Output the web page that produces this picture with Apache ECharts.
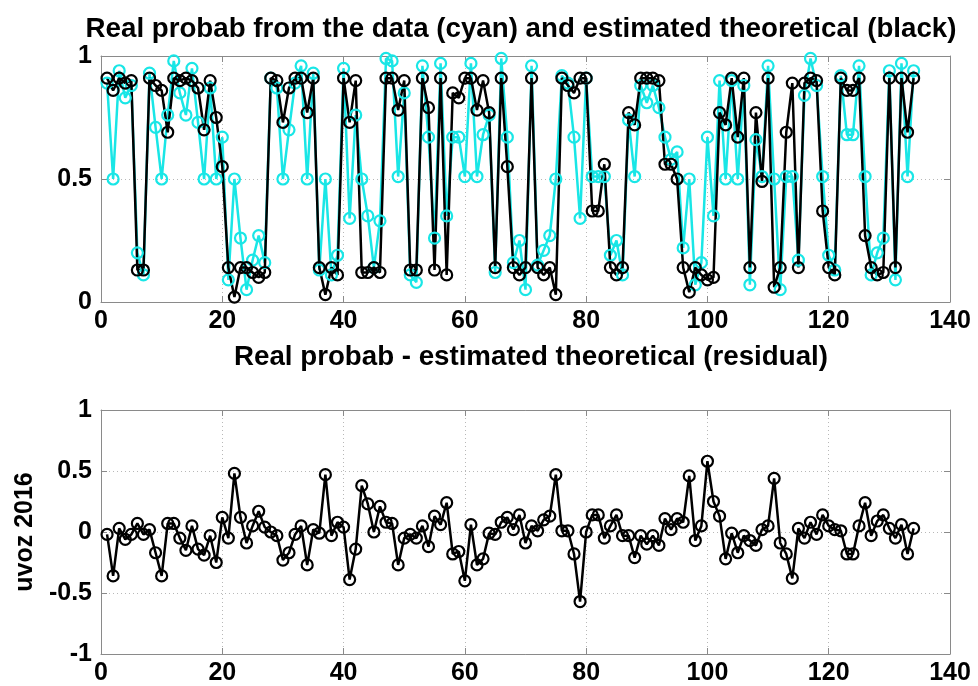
<!DOCTYPE html>
<html>
<head>
<meta charset="utf-8">
<script src="https://cdn.jsdelivr.net/npm/echarts@6/dist/echarts.min.js"></script>
<style>html,body{margin:0;padding:0;background:#fff}#c{width:978px;height:686px}</style>
</head>
<body>
<div id="c"></div>
<script>
// Real probabilities from the data (cyan), samples 1..134
const realProb = [
0.89,0.50,0.94,0.83,0.88,0.20,0.11,0.93,0.71,0.50,
0.76,0.98,0.85,0.76,0.95,0.73,0.50,0.87,0.50,0.67,
0.09,0.50,0.26,0.05,0.17,0.27,0.16,0.91,0.87,0.50,
0.70,0.89,0.96,0.50,0.93,0.13,0.50,0.11,0.19,0.95,
0.34,0.76,0.50,0.35,0.14,0.33,0.99,0.98,0.51,0.85,
0.11,0.08,0.96,0.67,0.26,0.97,0.35,0.67,0.67,0.51,
0.97,0.51,0.68,0.76,0.12,0.99,0.67,0.16,0.25,0.05,
0.96,0.15,0.21,0.27,0.50,0.92,0.89,0.67,0.34,0.91,
0.51,0.51,0.51,0.19,0.25,0.11,0.74,0.51,0.88,0.81,
0.88,0.79,0.67,0.58,0.61,0.22,0.50,0.07,0.16,0.67,
0.35,0.90,0.50,0.90,0.50,0.88,0.07,0.66,0.51,0.96,
0.50,0.05,0.51,0.51,0.17,0.84,0.99,0.88,0.51,0.19,
0.13,0.92,0.68,0.68,0.96,0.51,0.11,0.20,0.26,0.94,
0.09,0.97,0.51,0.94];
// Estimated theoretical probabilities (black)
const theoProb = [
0.91,0.86,0.91,0.89,0.90,0.13,0.13,0.91,0.88,0.86,
0.69,0.91,0.90,0.91,0.90,0.87,0.70,0.90,0.75,0.55,
0.14,0.02,0.14,0.14,0.12,0.10,0.12,0.91,0.90,0.73,
0.87,0.91,0.91,0.77,0.91,0.14,0.03,0.14,0.11,0.91,
0.73,0.90,0.12,0.12,0.14,0.12,0.91,0.91,0.78,0.90,
0.13,0.13,0.91,0.79,0.13,0.91,0.11,0.85,0.83,0.91,
0.91,0.78,0.90,0.77,0.14,0.91,0.55,0.14,0.11,0.14,
0.91,0.14,0.11,0.14,0.03,0.91,0.88,0.85,0.91,0.91,
0.37,0.37,0.56,0.14,0.11,0.14,0.77,0.72,0.91,0.91,
0.91,0.90,0.56,0.56,0.50,0.14,0.04,0.14,0.11,0.09,
0.10,0.77,0.72,0.91,0.67,0.91,0.14,0.77,0.49,0.91,
0.06,0.14,0.69,0.89,0.14,0.89,0.91,0.90,0.37,0.14,
0.11,0.91,0.86,0.86,0.91,0.27,0.14,0.11,0.12,0.91,
0.14,0.91,0.69,0.91];
// Residual (real - theoretical)
const residual = [
-0.02,-0.36,0.03,-0.06,-0.02,0.07,-0.02,0.02,-0.17,-0.36,
0.07,0.07,-0.05,-0.15,0.05,-0.14,-0.19,-0.03,-0.25,0.12,
-0.05,0.48,0.12,-0.09,0.05,0.17,0.04,0.00,-0.03,-0.23,
-0.17,-0.02,0.05,-0.27,0.02,-0.01,0.47,-0.03,0.08,0.04,
-0.39,-0.14,0.38,0.23,0.00,0.21,0.08,0.07,-0.27,-0.05,
-0.02,-0.05,0.05,-0.12,0.13,0.06,0.24,-0.18,-0.16,-0.40,
0.06,-0.27,-0.22,-0.01,-0.02,0.08,0.12,0.02,0.14,-0.09,
0.05,0.01,0.10,0.13,0.47,0.01,0.01,-0.18,-0.57,0.00,
0.14,0.14,-0.05,0.05,0.14,-0.03,-0.03,-0.21,-0.03,-0.10,
-0.03,-0.11,0.11,0.02,0.11,0.08,0.46,-0.07,0.05,0.58,
0.25,0.13,-0.22,-0.01,-0.17,-0.03,-0.07,-0.11,0.02,0.05,
0.44,-0.09,-0.18,-0.38,0.03,-0.05,0.08,-0.02,0.14,0.05,
0.02,0.01,-0.18,-0.18,0.05,0.24,-0.03,0.09,0.14,0.03,
-0.05,0.06,-0.18,0.03];
const xTicks = [0,20,40,60,80,100,120,140];
const topYTicks = [0,0.5,1];
const botYTicks = [-1,-0.5,0,0.5,1];
const titleTop = 'Real probab from the data (cyan) and estimated theoretical (black)';
const titleBot = 'Real probab - estimated theoretical (residual)';
const yNameBot = 'uvoz 2016';

const pairs = arr => arr.map((v, i) => [i + 1, v]);
const FONT = 'Liberation Sans, Arial, sans-serif';
const lbl = {fontFamily: FONT, fontWeight: 'bold', fontSize: 25, color: '#000'};
const ttl = {fontFamily: FONT, fontWeight: 'bold', fontSize: 27.7, color: '#000'};
const boxColor = '#8a8a8a';

function xAx(grid, pos, labels) {
  return {
    type: 'value', gridIndex: grid, position: pos, min: xTicks[0], max: xTicks[xTicks.length-1],
    interval: xTicks[1]-xTicks[0],
    axisLine: {show: true, onZero: false, lineStyle: {color: boxColor, width: 1}},
    axisTick: {show: true, inside: true, length: 6, lineStyle: {color: boxColor}},
    axisLabel: labels ? Object.assign({show: true, margin: 7}, lbl) : {show: false},
    splitLine: {show: labels, lineStyle: {type: [1, 3], color: '#b8b8b8', width: 1}}
  };
}
function yAx(grid, pos, ticks, labels, name) {
  return {
    type: 'value', gridIndex: grid, position: pos, min: ticks[0], max: ticks[ticks.length-1],
    interval: ticks[1]-ticks[0],
    name: name || '', nameLocation: 'middle', nameGap: 62, nameRotate: 90,
    nameTextStyle: lbl,
    axisLine: {show: true, onZero: false, lineStyle: {color: boxColor, width: 1}},
    axisTick: {show: true, inside: true, length: 6, lineStyle: {color: boxColor}},
    axisLabel: labels ? Object.assign({show: true, margin: 9}, lbl) : {show: false},
    splitLine: {show: labels, lineStyle: {type: [1, 3], color: '#b8b8b8', width: 1}}
  };
}
const cyan = '#19e6e6';
const chart = echarts.init(document.getElementById('c'), null, {renderer: 'canvas'});
chart.setOption({
  backgroundColor: '#fff',
  animation: false,
  title: [
    {text: titleTop, left: 516, top: 10, textAlign: 'center', textStyle: ttl},
    {text: titleBot, left: 526, top: 338, textAlign: 'center', textStyle: ttl}
  ],
  grid: [
    {left: 101, right: 28, top: 56, height: 246},
    {left: 101, right: 28, top: 410, height: 244}
  ],
  xAxis: [xAx(0, 'bottom', true), xAx(0, 'top', false), xAx(1, 'bottom', true), xAx(1, 'top', false)],
  yAxis: [yAx(0, 'left', topYTicks, true), yAx(0, 'right', topYTicks, false),
          yAx(1, 'left', botYTicks, true, yNameBot), yAx(1, 'right', botYTicks, false)],
  series: [
    {type: 'line', xAxisIndex: 0, yAxisIndex: 0, data: pairs(realProb), symbol: 'circle', symbolSize: 11,
     itemStyle: {color: 'rgba(255,255,255,0)', borderColor: cyan, borderWidth: 2.2},
     lineStyle: {color: cyan, width: 2.5}},
    {type: 'line', xAxisIndex: 0, yAxisIndex: 0, data: pairs(theoProb), symbol: 'circle', symbolSize: 11,
     itemStyle: {color: 'rgba(255,255,255,0)', borderColor: '#000', borderWidth: 2.2},
     lineStyle: {color: '#000', width: 2.5}},
    {type: 'line', xAxisIndex: 2, yAxisIndex: 2, data: pairs(residual), symbol: 'circle', symbolSize: 11,
     itemStyle: {color: 'rgba(255,255,255,0)', borderColor: '#000', borderWidth: 2.2},
     lineStyle: {color: '#000', width: 2.5}}
  ]
});
</script>
</body>
</html>
